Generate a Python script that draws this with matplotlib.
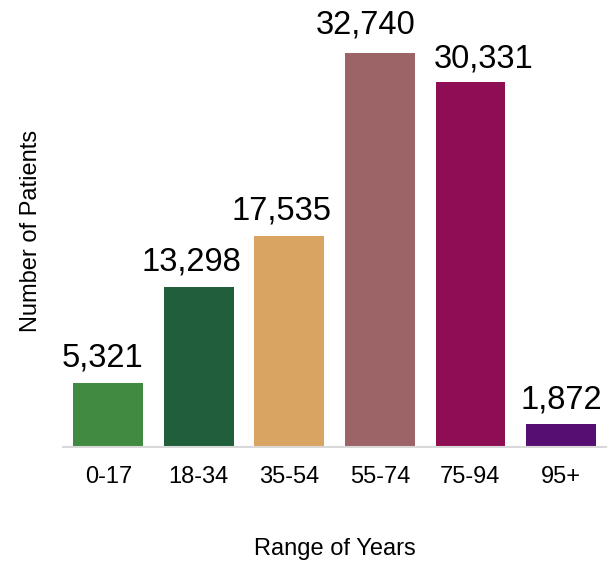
import numpy as np
import matplotlib
matplotlib.use("Agg")
import matplotlib.pyplot as plt

plt.rcParams['font.family'] = ['Liberation Sans', 'DejaVu Sans']

ages = ['0-17', '18-34', '35-54', '55-74', '75-94', '95+']
patients = [5321, 13298, 17535, 32740, 30331, 1872]
colors = ['#418A41', '#215E3B', '#D9A462', '#9D6467', '#8E0E53', '#560E73']

# label nudges in pixels (dx, gap above bar), as placed in the original
label_dx = [-6, -7, -8, -14, 13, 0]
label_gap = [16, 17, 17, 20, 15, 16]

fig = plt.figure(figsize=(6.13, 5.61), dpi=100)
ax = fig.add_axes([0.1028, 0.2032, 0.886, 0.772])

x = np.arange(len(ages))
bars = ax.bar(x, patients, width=0.77, color=colors)

for b, v, dx, g in zip(bars, patients, label_dx, label_gap):
    ax.annotate(f'{v:,}', (b.get_x() + b.get_width() / 2, v),
                xytext=(dx, g), textcoords='offset pixels',
                ha='center', va='baseline', fontsize=23.5)

ax.set_xlim(-0.5, 5.5)
ax.set_ylim(0, 36000)
ax.set_xticks(x)
ax.set_xticklabels(ages, fontsize=17)
ax.tick_params(axis='x', length=0, pad=14)
ax.set_yticks([])
for s in ['top', 'right', 'left']:
    ax.spines[s].set_visible(False)
ax.spines['bottom'].set_color('#D9D9D9')
ax.spines['bottom'].set_linewidth(1.5)

ax.set_xlabel('Range of Years', fontsize=17, labelpad=36)
ax.set_ylabel('Number of Patients', fontsize=17, labelpad=15)

fig.savefig('out.png', dpi=100)
